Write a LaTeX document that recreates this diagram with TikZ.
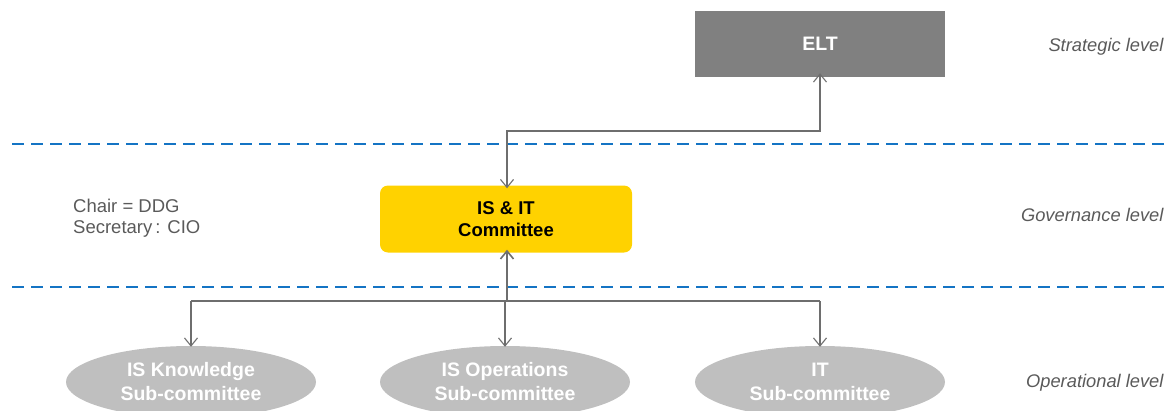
\documentclass[tikz,border=0pt]{standalone}
\usepackage{fontspec}
\setmainfont{Liberation Sans}
\usetikzlibrary{arrows.meta,shapes.geometric}
\definecolor{eltgray}{HTML}{808080}
\definecolor{cmtyellow}{HTML}{FFD200}
\definecolor{subgray}{HTML}{BFBFBF}
\definecolor{linegray}{HTML}{6E6E6E}
\definecolor{txtgray}{HTML}{5A5A5A}
\definecolor{dashblue}{HTML}{1474C4}
\begin{document}
\begin{tikzpicture}[x=1pt,y=-1pt,
  box/.style={draw=none,minimum width=250pt,minimum height=66pt,inner sep=0pt,
    align=center,font=\fontsize{18.5}{22}\selectfont\bfseries},
  sub/.style={ellipse,draw=none,fill=subgray,minimum width=250pt,minimum height=72pt,
    inner sep=0pt,align=center,text=white,font=\fontsize{19.5}{24}\selectfont\bfseries},
  level/.style={anchor=east,text=txtgray,font=\fontsize{18.3}{20}\selectfont\itshape},
  sep/.style={dashblue,line width=2pt,dash pattern=on 12pt off 7pt},
  link/.style={linegray,line width=1.1pt},
  tip/.style={-{Straight Barb[length=8pt,width=13pt,line width=1.1pt]}}
]
\useasboundingbox (0,0) rectangle (1171,410);
\clip (0,0) rectangle (1171,410);

% level separators
\draw[sep] (12,144) -- (1166,144);
\draw[sep] (12,287) -- (1166,287);

% level labels
\node[level] (strat) at (1167,47) {Strategic level};
\node[level] (gov) at (1167,215) {Governance level};
\node[level] (oper) at (1167,383) {Operational level};

% chair / secretary note
\node[anchor=west,align=left,text=txtgray,font=\fontsize{18.5}{21}\selectfont,inner sep=0pt]
  (note) at (73,218) {Chair = DDG\\Secretary\,: CIO};

% boxes
\node[box,fill=eltgray,text=white,font=\fontsize{19.5}{22}\selectfont\bfseries] (elt) at (820,44) {ELT};
\node[box,fill=cmtyellow,rounded corners=8pt,minimum width=252pt,minimum height=67pt,text=black]
  (cmt) at (506,219) {IS \& IT\\Committee};

% sub-committees
\node[sub] (know) at (191,382) {IS Knowledge\\Sub-committee};
\node[sub] (ops) at (505,382) {IS Operations\\Sub-committee};
\node[sub] (it) at (820,382) {IT\\Sub-committee};

% strategic link
\coordinate (jt) at (507,131);
\draw[link,{Straight Barb[length=8pt,width=13pt,line width=1.1pt]}-{Straight Barb[length=8pt,width=13pt,line width=1.1pt]}]
  ([yshift=-3pt]cmt.north -| jt) -- (jt) -| ([yshift=4pt]elt.south);

% operational links
\coordinate (jb) at (507,301);
\draw[link,line width=2pt,-{Straight Barb[length=8pt,width=13pt,line width=1.6pt]}]
  (jb) -- ([yshift=3pt]cmt.south -| jb);
\draw[link] (know.north |- jb) -- (it.north |- jb);
\draw[link,tip] (know.north |- jb) -- ([yshift=-1pt]know.north);
\draw[link,tip] (ops.north |- jb) -- ([yshift=-1pt]ops.north);
\draw[link,tip] (it.north |- jb) -- ([yshift=-1pt]it.north);
\end{tikzpicture}
\end{document}
